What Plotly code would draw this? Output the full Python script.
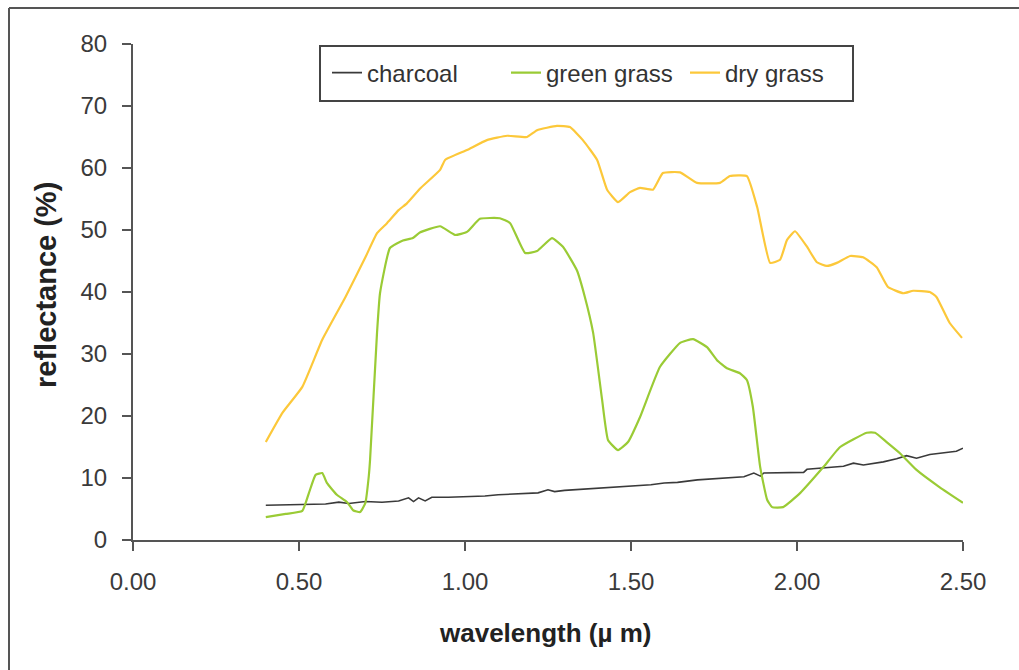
import plotly.graph_objects as go

# ---------------- data ----------------
dry_x = [0.40, 0.45, 0.51, 0.57, 0.64, 0.70, 0.735, 0.765, 0.80, 0.825, 0.865, 0.925, 0.94,
         1.006, 1.066, 1.127, 1.187, 1.217, 1.277, 1.316, 1.355, 1.398, 1.428, 1.461, 1.497,
         1.527, 1.566, 1.596, 1.648, 1.699, 1.768, 1.798, 1.849, 1.880, 1.919, 1.949, 1.97,
         1.994, 2.03, 2.06, 2.09, 2.12, 2.16, 2.199, 2.24, 2.274, 2.32, 2.35, 2.40, 2.42,
         2.46, 2.497]
dry_y = [15.8, 20.5, 24.7, 32.3, 39.2, 45.6, 49.5, 51.1, 53.2, 54.3, 56.7, 59.7, 61.3,
         62.9, 64.5, 65.2, 65.0, 66.1, 66.8, 66.6, 64.5, 61.3, 56.5, 54.5, 56.1,
         56.8, 56.5, 59.2, 59.3, 57.6, 57.6, 58.7, 58.7, 53.7, 44.7, 45.2, 48.4,
         49.8, 47.3, 44.8, 44.2, 44.7, 45.8, 45.6, 44.0, 40.8, 39.8, 40.2, 40.0, 39.2,
         35.0, 32.6]

green_x = [0.40, 0.46, 0.51, 0.53, 0.55, 0.57, 0.584, 0.614, 0.645, 0.663, 0.684, 0.70,
           0.71, 0.714, 0.735, 0.744, 0.774, 0.813, 0.843, 0.864, 0.925, 0.97, 1.006,
           1.045, 1.105, 1.136, 1.181, 1.217, 1.262, 1.295, 1.337, 1.361, 1.386, 1.413,
           1.431, 1.461, 1.491, 1.527, 1.587, 1.648, 1.687, 1.729, 1.759, 1.789, 1.828,
           1.849, 1.867, 1.889, 1.91, 1.925, 1.958, 2.01, 2.08, 2.13, 2.21, 2.235, 2.27,
           2.31, 2.36, 2.43, 2.50]
green_y = [3.7, 4.2, 4.7, 7.6, 10.5, 10.8, 9.2, 7.3, 6.1, 4.8, 4.5, 6.0,
           10.2, 12.9, 33.4, 39.8, 47.1, 48.3, 48.7, 49.6, 50.6, 49.2, 49.7,
           51.8, 51.9, 51.1, 46.3, 46.6, 48.7, 47.3, 43.5, 39.2, 33.4, 22.6,
           16.1, 14.5, 15.8, 19.8, 27.9, 31.8, 32.4, 31.1, 29.0, 27.7, 26.9,
           25.8, 21.5, 11.8, 6.5, 5.3, 5.3, 7.6, 11.8, 15.0, 17.3, 17.3, 15.8,
           14.0, 11.3, 8.5, 6.0]

char_x = [0.40, 0.50, 0.58, 0.62, 0.65, 0.70, 0.75, 0.80, 0.83, 0.845, 0.86, 0.88, 0.90,
          0.95, 1.02, 1.06, 1.10, 1.16, 1.22, 1.25, 1.27, 1.30, 1.36, 1.42, 1.46, 1.50,
          1.56, 1.60, 1.64, 1.70, 1.76, 1.84, 1.87, 1.89, 1.90, 1.96, 2.02, 2.03, 2.08,
          2.14, 2.17, 2.20, 2.26, 2.30, 2.33, 2.36, 2.40, 2.44, 2.48, 2.50]
char_y = [5.6, 5.7, 5.8, 6.1, 5.9, 6.2, 6.1, 6.3, 6.8, 6.2, 6.8, 6.3, 6.9,
          6.9, 7.0, 7.1, 7.3, 7.4, 7.6, 8.1, 7.8, 8.0, 8.2, 8.4, 8.6, 8.7,
          8.9, 9.2, 9.3, 9.7, 9.9, 10.2, 10.8, 10.3, 10.8, 10.8, 10.9, 11.4, 11.6,
          11.9, 12.4, 12.1, 12.6, 13.1, 13.6, 13.2, 13.8, 14.0, 14.3, 14.8]

x_ticks = [0, 0.5, 1.0, 1.5, 2.0, 2.5]
x_tick_labels = ["0.00", "0.50", "1.00", "1.50", "2.00", "2.50"]
y_ticks = [0, 10, 20, 30, 40, 50, 60, 70, 80]

# ---------------- figure ----------------
W, H = 1019, 670
L, R, T, B = 133, 56, 44, 130
pw, ph = W - L - R, H - T - B


def px(x):
    return (x - L) / pw


def py(y):
    return (H - B - y) / ph


font_family = "Liberation Sans, Arial, sans-serif"

fig = go.Figure()
fig.add_trace(go.Scatter(x=char_x, y=char_y, mode="lines", name="charcoal",
                         line=dict(color="#3a3a3a", width=1.6)))
fig.add_trace(go.Scatter(x=green_x, y=green_y, mode="lines", name="green grass",
                         line=dict(color="#9acb35", width=2.2, shape="spline", smoothing=0.4)))
fig.add_trace(go.Scatter(x=dry_x, y=dry_y, mode="lines", name="dry grass",
                         line=dict(color="#fcc83a", width=2.2, shape="spline", smoothing=0.4)))

axis_common = dict(
    showgrid=False, zeroline=False, showline=True, linecolor="#555555", linewidth=2,
    ticks="outside", ticklen=9, tickwidth=2, tickcolor="#555555",
    tickfont=dict(family=font_family, size=24, color="#3a3a3a"),
)

fig.update_xaxes(range=[0, 2.5], tickvals=x_ticks, ticktext=x_tick_labels,
                 ticklabelstandoff=10, **axis_common)
fig.update_yaxes(range=[0, 80], tickvals=y_ticks, ticklabelstandoff=10, **axis_common)

shapes = [
    # outer frame (left and top edges)
    dict(type="line", xref="paper", yref="paper", x0=px(9), x1=px(9), y0=py(8), y1=py(H + 5),
         line=dict(color="#555555", width=2)),
    dict(type="line", xref="paper", yref="paper", x0=px(9), x1=px(W + 5), y0=py(8), y1=py(8),
         line=dict(color="#555555", width=2)),
    # legend box
    dict(type="rect", xref="paper", yref="paper", x0=px(320), x1=px(853), y0=py(101), y1=py(46),
         line=dict(color="#444444", width=2), fillcolor="rgba(0,0,0,0)"),
]

annotations = [
    dict(text="wavelength (µ m)", xref="paper", yref="paper", x=px(545), y=py(633),
         showarrow=False, xanchor="center", yanchor="middle",
         font=dict(family=font_family, size=26, color="#222222", weight="bold")),
    dict(text="reflectance (%)", xref="paper", yref="paper", x=px(46), y=py(285),
         showarrow=False, xanchor="center", yanchor="middle", textangle=-90,
         font=dict(family=font_family, size=29, color="#222222", weight="bold")),
]

fig.update_layout(
    width=W, height=H,
    margin=dict(l=L, r=R, t=T, b=B, autoexpand=False),
    paper_bgcolor="white", plot_bgcolor="white",
    showlegend=True,
    legend=dict(orientation="h", x=px(327), y=py(73), xanchor="left", yanchor="middle",
                bgcolor="rgba(0,0,0,0)", borderwidth=0,
                font=dict(family=font_family, size=24, color="#333333"),
                itemwidth=30, tracegroupgap=0, entrywidth=134, entrywidthmode="pixels"),
    shapes=shapes,
    annotations=annotations,
)

fig.write_html("out.html")
